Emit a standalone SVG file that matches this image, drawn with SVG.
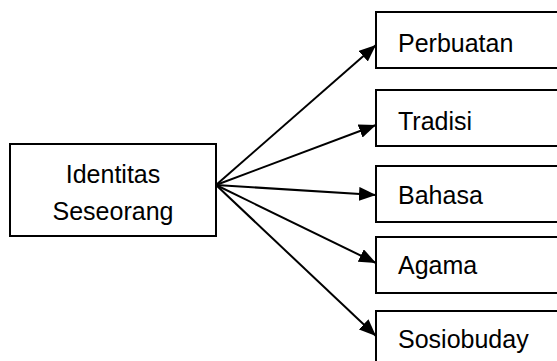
<svg xmlns="http://www.w3.org/2000/svg" width="557" height="361" viewBox="0 0 557 361">
<style>
.box{fill:#fff;stroke:#000;stroke-width:2}
.t{font-family:"Liberation Sans",Arial,sans-serif;font-size:25px;fill:#000}
.c{stroke:#000;stroke-width:2;fill:none}
</style>
<defs>
<marker id="ah" markerUnits="userSpaceOnUse" markerWidth="18" markerHeight="14" refX="17" refY="7" orient="auto">
<path d="M0,0 L17,7 L0,14 Z" fill="#000"/>
</marker>
</defs>
<rect width="557" height="361" fill="#fff"/>
<g id="connectors">
<line class="c" x1="216" y1="185" x2="376" y2="45" marker-end="url(#ah)"/>
<line class="c" x1="216" y1="185" x2="376" y2="125" marker-end="url(#ah)"/>
<line class="c" x1="216" y1="185" x2="376" y2="195" marker-end="url(#ah)"/>
<line class="c" x1="216" y1="185" x2="376" y2="263" marker-end="url(#ah)"/>
<line class="c" x1="216" y1="185" x2="376" y2="336" marker-end="url(#ah)"/>
</g>
<g id="identitas">
<rect class="box" x="10" y="144" width="206" height="92"/>
<text class="t" x="113" y="183" text-anchor="middle">Identitas</text>
<text class="t" x="113" y="220" text-anchor="middle">Seseorang</text>
</g>
<g id="perbuatan">
<rect class="box" x="376" y="12" width="200" height="56"/>
<text class="t" x="398" y="52">Perbuatan</text>
</g>
<g id="tradisi">
<rect class="box" x="376" y="90" width="200" height="56"/>
<text class="t" x="398" y="130">Tradisi</text>
</g>
<g id="bahasa">
<rect class="box" x="376" y="166" width="200" height="56"/>
<text class="t" x="398" y="204">Bahasa</text>
</g>
<g id="agama">
<rect class="box" x="376" y="237" width="200" height="56"/>
<text class="t" x="398" y="274">Agama</text>
</g>
<g id="sosiobuday">
<rect class="box" x="376" y="311" width="200" height="70"/>
<text class="t" x="398" y="348">Sosiobuday</text>
</g>
</svg>
